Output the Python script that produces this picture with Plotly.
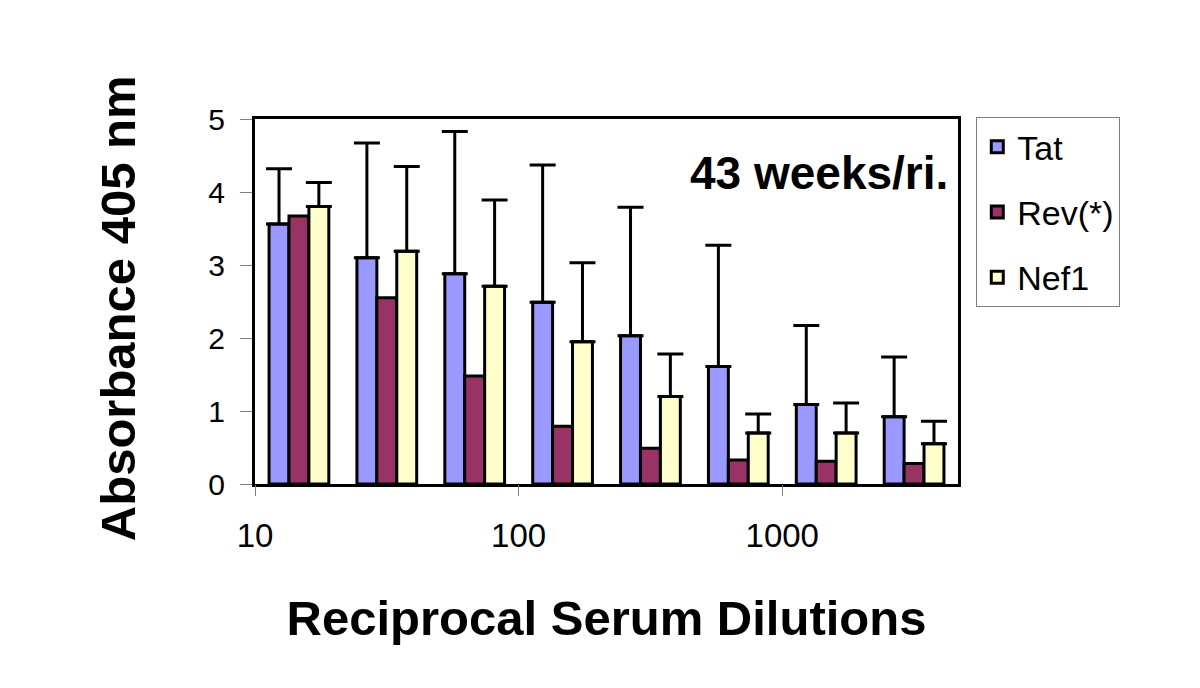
import plotly.graph_objects as go
import math

# Data
groups = [0, 1, 2, 3, 4, 5, 6, 7]  # eight serum dilution steps
tat = [3.56, 3.10, 2.88, 2.49, 2.03, 1.61, 1.09, 0.92]
tat_sd = [0.76, 1.57, 1.95, 1.88, 1.76, 1.66, 1.08, 0.82]
rev = [3.67, 2.55, 1.48, 0.79, 0.49, 0.33, 0.31, 0.28]
nef = [3.80, 3.19, 2.71, 1.95, 1.20, 0.70, 0.70, 0.55]
nef_sd = [0.33, 1.16, 1.18, 1.08, 0.58, 0.26, 0.41, 0.31]
x_tick_vals = [10, 100, 1000]
x_tick_text = ["10", "100", "1000"]
x_log_range = [10, 4642]
y_tick_vals = [0, 1, 2, 3, 4, 5]

FONT = "Liberation Sans, Arial, sans-serif"

fig = go.Figure()
fig.add_trace(go.Bar(
    x=groups, y=tat, name="Tat", legendgroup="a",
    marker=dict(color="#9999FF", line=dict(color="black", width=3)),
    error_y=dict(type="data", array=tat_sd, symmetric=False,
                 arrayminus=[0] * len(tat_sd), color="black", thickness=3, width=13),
))
fig.add_trace(go.Bar(
    x=groups, y=rev, name="Rev(*)", legendgroup="b",
    marker=dict(color="#993366", line=dict(color="black", width=3)),
))
fig.add_trace(go.Bar(
    x=groups, y=nef, name="Nef1", legendgroup="c",
    marker=dict(color="#FFFFCC", line=dict(color="black", width=3)),
    error_y=dict(type="data", array=nef_sd, symmetric=False,
                 arrayminus=[0] * len(nef_sd), color="black", thickness=3, width=13),
))
# invisible carrier so the logarithmic dilution axis is drawn
fig.add_trace(go.Scatter(
    x=x_log_range, y=[0, 0], xaxis="x2", yaxis="y", mode="lines",
    line=dict(width=0, color="rgba(0,0,0,0)"), showlegend=False, hoverinfo="skip",
))

# page body adds an 8px offset; margins compensate for it
L, R, T, B = 247, 250, 111, 212
fig.update_layout(
    width=1200, height=688,
    margin=dict(l=L, r=R, t=T, b=B, autoexpand=False),
    paper_bgcolor="white", plot_bgcolor="white",
    font=dict(family=FONT, color="black"),
    barmode="group", bargap=0.32, bargroupgap=0,
    showlegend=True,
    legend=dict(
        x=1.026, y=1.005, xanchor="left", yanchor="top",
        font=dict(size=34, family=FONT),
        bordercolor="#808080", borderwidth=1, bgcolor="white",
        traceorder="grouped", tracegroupgap=18,
    ),
    xaxis=dict(
        range=[-0.5, 7.5], showticklabels=False, ticks="",
        showgrid=False, zeroline=False, automargin=False,
        showline=True, mirror=True, linecolor="black", linewidth=3,
    ),
    xaxis2=dict(
        type="log", overlaying="x", anchor="y", side="bottom",
        range=[math.log10(x_log_range[0]), math.log10(x_log_range[1])],
        tickvals=x_tick_vals, ticktext=x_tick_text,
        ticks="outside", ticklen=11, tickwidth=1, tickcolor="#808080",
        tickfont=dict(size=33, family=FONT),
        ticklabelstandoff=11, automargin=False,
        showgrid=False, zeroline=False, showline=False,
        title=dict(text="<b>Reciprocal Serum Dilutions</b>",
                   font=dict(size=49, family=FONT), standoff=48),
    ),
    yaxis=dict(
        range=[0, 5], tickvals=y_tick_vals,
        ticks="outside", ticklen=12, tickwidth=1, tickcolor="#808080",
        tickfont=dict(size=30, family=FONT),
        ticklabelstandoff=9, automargin=False,
        showgrid=False, zeroline=False,
        showline=True, mirror=True, linecolor="black", linewidth=3,
        title=dict(text="<b>Absorbance 405 nm\u00a0</b>",
                   font=dict(size=49, family=FONT), standoff=58),
    ),
    annotations=[dict(
        text="<b>43 weeks/ri.</b>", xref="paper", yref="paper",
        x=0.988, y=0.852, xanchor="right", yanchor="middle",
        showarrow=False, font=dict(size=46, family=FONT),
    )],
)

fig.write_html("out.html")
